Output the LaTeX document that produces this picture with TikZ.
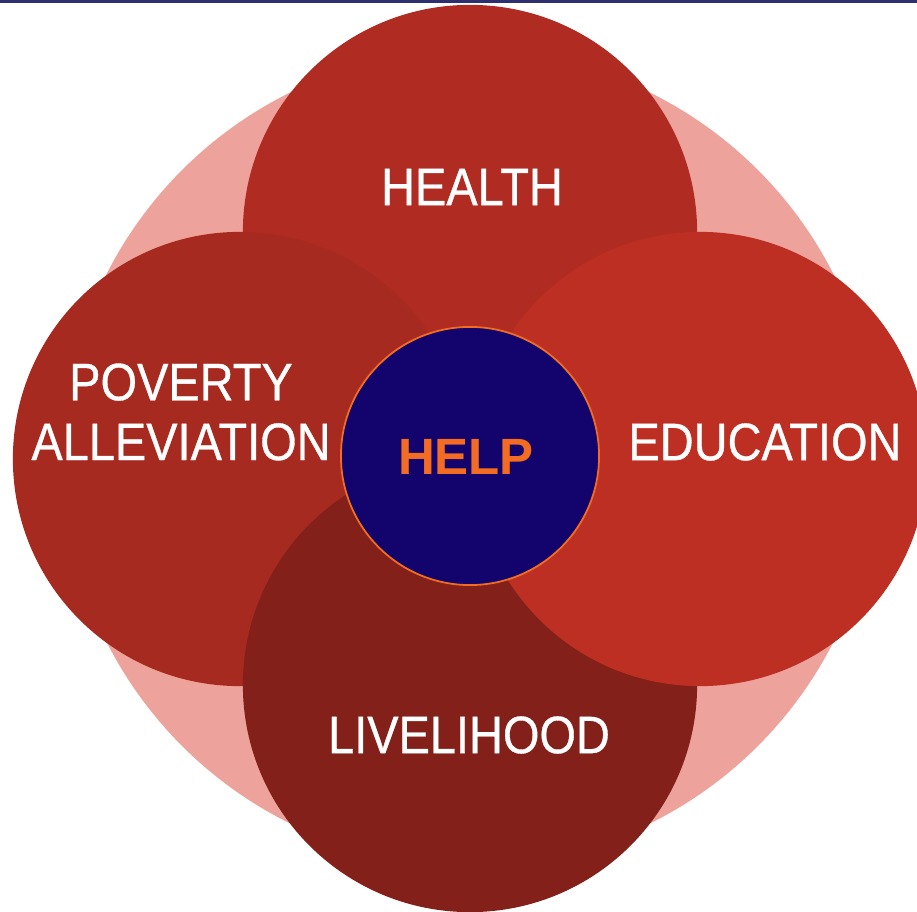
\documentclass[tikz,border=0pt]{standalone}
\usepackage{fontspec}
\setmainfont{Liberation Sans}
\newfontfamily\petalfont[FakeStretch=0.89,FakeBold=0.6]{Liberation Sans}
\usetikzlibrary{positioning}
\definecolor{topline}{HTML}{2D2F6E}
\definecolor{pinkbg}{HTML}{EDA39B}
\definecolor{healthred}{HTML}{B02B21}
\definecolor{povertyred}{HTML}{A72A20}
\definecolor{educationred}{HTML}{BD2F22}
\definecolor{livelihoodred}{HTML}{832019}
\definecolor{helpnavy}{HTML}{13046D}
\definecolor{helporange}{HTML}{F36C22}
\begin{document}
\begin{tikzpicture}[x=0.01cm,y=-0.01cm,
    petal/.style={circle,inner sep=0pt,minimum size=4.54cm},
    petallabel/.style={text=white,font=\petalfont\fontsize{15}{17}\selectfont,align=center,inner sep=0pt}]
  \clip (0,0) rectangle (917,912);
  %linea in alto
  \fill[topline] (0,0) rectangle (917,3);
  %sfondo
  \node[circle,inner sep=0pt,minimum size=8.14cm,fill=pinkbg] (bg) at (470,458) {};
  %petali
  \node[petal,fill=healthred] (health) at (470,232) {};
  \node[petal,fill=povertyred] (poverty) at (240,459) {};
  \node[petal,fill=livelihoodred] (livelihood) at (470,685) {};
  \node[petal,fill=educationred] (education) at (700,459) {};
  %centro
  \node[circle,inner sep=0pt,minimum size=2.58cm,fill=helpnavy,draw=helporange,line width=0.5pt] (help) at (470,456) {};
  %nomi
  \node[petallabel] (healthtxt) at (472,187) {HEALTH};
  \node[petallabel] (povertytxt) at (181,412) {POVERTY\\ALLEVIATION};
  \node[petallabel] (educationtxt) at (765,442) {EDUCATION};
  \node[petallabel] (livelihoodtxt) at (469,735) {LIVELIHOOD};
  \node[text=helporange,font=\bfseries\fontsize{14.5}{18}\selectfont,inner sep=0pt] (helptxt) at (466,457) {HELP};
\end{tikzpicture}
\end{document}
